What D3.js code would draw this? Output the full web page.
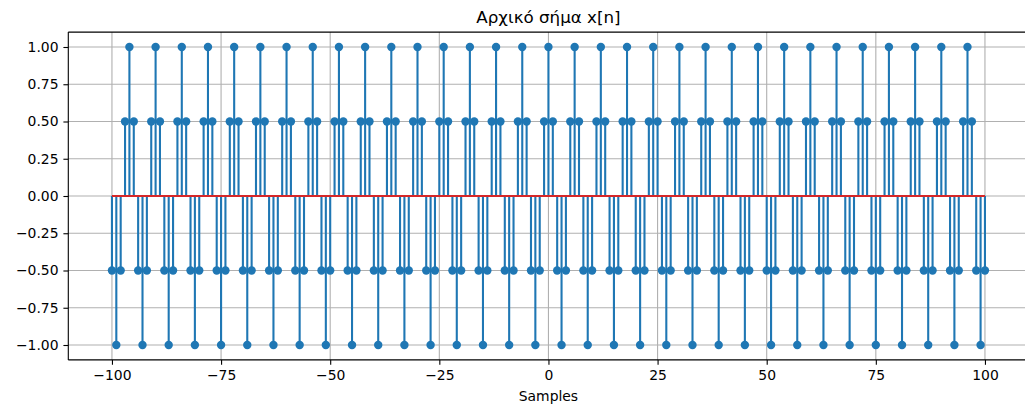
<!DOCTYPE html>
<html>
<head>
<meta charset="utf-8">
<script src="https://cdn.jsdelivr.net/npm/d3@7/dist/d3.min.js"></script>
<style>
  html, body { margin: 0; padding: 0; background: #fff; }
  svg { display: block; }
  text { font-family: "DejaVu Sans", sans-serif; fill: #000; }
</style>
</head>
<body>
<svg id="chart" width="1025" height="405"></svg>
<script>
// Sample indices n = -100 ... 100
const sampleIndex = d3.range(-100, 101);

// Signal values x[n], one per sample index
const signalValues = [
  -0.5, -1, -0.5, 0.5, 1, 0.5,
  -0.5, -1, -0.5, 0.5, 1, 0.5,
  -0.5, -1, -0.5, 0.5, 1, 0.5,
  -0.5, -1, -0.5, 0.5, 1, 0.5,
  -0.5, -1, -0.5, 0.5, 1, 0.5,
  -0.5, -1, -0.5, 0.5, 1, 0.5,
  -0.5, -1, -0.5, 0.5, 1, 0.5,
  -0.5, -1, -0.5, 0.5, 1, 0.5,
  -0.5, -1, -0.5, 0.5, 1, 0.5,
  -0.5, -1, -0.5, 0.5, 1, 0.5,
  -0.5, -1, -0.5, 0.5, 1, 0.5,
  -0.5, -1, -0.5, 0.5, 1, 0.5,
  -0.5, -1, -0.5, 0.5, 1, 0.5,
  -0.5, -1, -0.5, 0.5, 1, 0.5,
  -0.5, -1, -0.5, 0.5, 1, 0.5,
  -0.5, -1, -0.5, 0.5, 1, 0.5,
  -0.5, -1, -0.5, 0.5, 1, 0.5,
  -0.5, -1, -0.5, 0.5, 1, 0.5,
  -0.5, -1, -0.5, 0.5, 1, 0.5,
  -0.5, -1, -0.5, 0.5, 1, 0.5,
  -0.5, -1, -0.5, 0.5, 1, 0.5,
  -0.5, -1, -0.5, 0.5, 1, 0.5,
  -0.5, -1, -0.5, 0.5, 1, 0.5,
  -0.5, -1, -0.5, 0.5, 1, 0.5,
  -0.5, -1, -0.5, 0.5, 1, 0.5,
  -0.5, -1, -0.5, 0.5, 1, 0.5,
  -0.5, -1, -0.5, 0.5, 1, 0.5,
  -0.5, -1, -0.5, 0.5, 1, 0.5,
  -0.5, -1, -0.5, 0.5, 1, 0.5,
  -0.5, -1, -0.5, 0.5, 1, 0.5,
  -0.5, -1, -0.5, 0.5, 1, 0.5,
  -0.5, -1, -0.5, 0.5, 1, 0.5,
  -0.5, -1, -0.5, 0.5, 1, 0.5,
  -0.5, -1, -0.5
];

const xTicks = [-100, -75, -50, -25, 0, 25, 50, 75, 100];
const yTicks = [-1.0, -0.75, -0.5, -0.25, 0, 0.25, 0.5, 0.75, 1.0];

const titleText = "Αρχικό σήμα x[n]";
const xLabelText = "Samples";

const points = sampleIndex.map((n, i) => ({ n, v: signalValues[i] }));

const svg = d3.select("#chart");
const plot = { left: 68.3, right: 1028.6, top: 32.1, bottom: 359.9 };

const x = d3.scaleLinear().domain([-110, 110]).range([plot.left, plot.right]);
const y = d3.scaleLinear().domain([-1.1, 1.1]).range([plot.bottom, plot.top]);

const fontSize = 13.9;
const minus = s => s.replace("-", "\u2212");

// Grid lines
const grid = svg.append("g");
grid.selectAll("line.gx").data(xTicks).join("line")
  .attr("x1", d => x(d)).attr("x2", d => x(d))
  .attr("y1", plot.top).attr("y2", plot.bottom)
  .attr("stroke", "#b0b0b0").attr("stroke-width", 1.1);
grid.selectAll("line.gy").data(yTicks).join("line")
  .attr("x1", plot.left).attr("x2", plot.right)
  .attr("y1", d => y(d)).attr("y2", d => y(d))
  .attr("stroke", "#b0b0b0").attr("stroke-width", 1.1);

const color = "#1f77b4";

// Stems
svg.append("g").selectAll("line").data(points).join("line")
  .attr("x1", d => x(d.n)).attr("x2", d => x(d.n))
  .attr("y1", y(0)).attr("y2", d => y(d.v))
  .attr("stroke", color).attr("stroke-width", 2.1);

// Markers
svg.append("g").selectAll("circle").data(points).join("circle")
  .attr("cx", d => x(d.n)).attr("cy", d => y(d.v))
  .attr("r", 4.2).attr("fill", color);

// Baseline
svg.append("line")
  .attr("x1", x(sampleIndex[0])).attr("x2", x(sampleIndex[sampleIndex.length - 1]))
  .attr("y1", y(0)).attr("y2", y(0))
  .attr("stroke", "#d62728").attr("stroke-width", 2.1);

// Axes
const fmtY = d3.format(".2f");
const xAxis = d3.axisBottom(x).tickValues(xTicks)
  .tickFormat(d => minus(String(d))).tickSize(4.9).tickPadding(4.9);
const yAxis = d3.axisLeft(y).tickValues(yTicks)
  .tickFormat(d => minus(fmtY(d))).tickSize(4.9).tickPadding(4.9);

const gx = svg.append("g").attr("transform", `translate(0,${plot.bottom})`).call(xAxis);
const gy = svg.append("g").attr("transform", `translate(${plot.left},0)`).call(yAxis);
[gx, gy].forEach(g => {
  g.select(".domain").remove();
  g.selectAll(".tick line").attr("stroke", "#000").attr("stroke-width", 1.1);
  g.selectAll(".tick text").attr("font-size", fontSize)
    .attr("font-family", "DejaVu Sans").attr("fill", "#000");
});

// Spines
const spines = svg.append("g").attr("stroke", "#000").attr("stroke-width", 1.1).attr("fill", "none");
spines.append("line").attr("x1", plot.left).attr("x2", plot.left).attr("y1", plot.top).attr("y2", plot.bottom);
spines.append("line").attr("x1", plot.right).attr("x2", plot.right).attr("y1", plot.top).attr("y2", plot.bottom);
spines.append("line").attr("x1", plot.left).attr("x2", plot.right).attr("y1", plot.top).attr("y2", plot.top);
spines.append("line").attr("x1", plot.left).attr("x2", plot.right).attr("y1", plot.bottom).attr("y2", plot.bottom);

// Title and axis label
svg.append("text")
  .attr("x", (plot.left + plot.right) / 2).attr("y", 23)
  .attr("text-anchor", "middle").attr("font-size", 16.7)
  .text(titleText);
svg.append("text")
  .attr("x", (plot.left + plot.right) / 2).attr("y", 401)
  .attr("text-anchor", "middle").attr("font-size", fontSize)
  .text(xLabelText);
</script>
</body>
</html>
